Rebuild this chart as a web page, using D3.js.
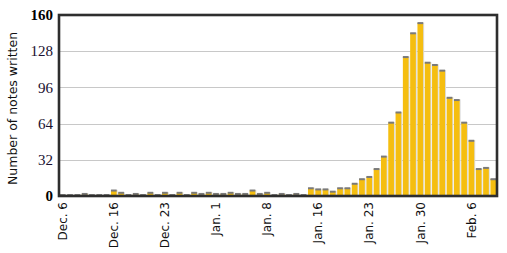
<!DOCTYPE html>
<html>
<head>
<meta charset="utf-8">
<script src="https://cdn.jsdelivr.net/npm/d3@7"></script>
<style>
  body { margin: 0; background: #fff; }
  svg { display: block; }
</style>
</head>
<body>
<div id="chartArea"></div>
<script>
// notes written per day, Dec. 6 .. Feb. 9
var values = [
    1, 1, 1, 2, 1, 1, 1, 5, 3, 1,
    2, 1, 3, 1, 3, 1, 3, 1, 3, 2,
    3, 2, 2, 3, 2, 2, 5, 2, 3, 1,
    2, 1, 2, 1, 7, 6, 6, 4, 7, 7,
    11, 15, 17, 24, 35, 65, 74, 123, 144, 153,
    118, 116, 111, 87, 85, 65, 49, 24, 25, 15
];

var tickLabels = ['Dec. 6', 'Dec. 16', 'Dec. 23', 'Jan. 1', 'Jan. 8', 'Jan. 16', 'Jan. 23', 'Jan. 30', 'Feb. 6'];
var tickDays = [0, 7, 14, 21, 28, 35, 42, 49, 56];
var yTicks = [0, 32, 64, 96, 128, 160];

var W = 507, H = 253;
var margin = {top: 15, right: 10, bottom: 57, left: 59};
var w = W - margin.left - margin.right,
    h = H - margin.top - margin.bottom;

var svg = d3.select('#chartArea').append('svg')
    .attr('width', W)
    .attr('height', H);

var g = svg.append('g')
    .attr('transform', 'translate(' + margin.left + ',' + margin.top + ')');

var xScale = d3.scaleBand()
    .domain(values.map(function (d, i) { return i; }))
    .range([0, w])
    .paddingInner(0.22)
    .paddingOuter(0.12);

var yScale = d3.scaleLinear()
    .domain([0, 160])
    .range([h, 0]);

// grid
g.selectAll('line.grid')
    .data(yTicks.slice(1, -1))
    .enter()
    .append('line')
    .attr('class', 'grid')
    .attr('x1', 0)
    .attr('x2', w)
    .attr('y1', function (d) { return Math.round(yScale(d)) + 0.5; })
    .attr('y2', function (d) { return Math.round(yScale(d)) + 0.5; })
    .attr('stroke', '#c8c8c8')
    .attr('stroke-width', 1);

var bars = g.selectAll('g.bar')
    .data(values)
    .enter()
    .append('g')
    .attr('class', 'bar');

// soft shadow on the right
bars.append('rect')
    .attr('x', function (d, i) { return xScale(i) + 1; })
    .attr('y', function (d) { return yScale(d) - 0.5; })
    .attr('width', xScale.bandwidth())
    .attr('height', function (d) { return h - yScale(d) + 0.5; })
    .attr('fill', '#dcdcdc');

bars.append('rect')
    .attr('x', function (d, i) { return xScale(i); })
    .attr('y', function (d) { return yScale(d); })
    .attr('width', xScale.bandwidth())
    .attr('height', function (d) { return h - yScale(d); })
    .attr('fill', '#f5be10');

// grey cap
bars.append('rect')
    .attr('x', function (d, i) { return xScale(i); })
    .attr('y', function (d) { return yScale(d) - 0.8; })
    .attr('width', xScale.bandwidth())
    .attr('height', 2)
    .attr('fill', '#7a7a7a');

// frame
g.append('rect')
    .attr('x', 0)
    .attr('y', 0)
    .attr('width', w)
    .attr('height', h)
    .attr('fill', 'none')
    .attr('stroke', '#2e2e2e')
    .attr('stroke-width', 2.6);

// y labels
g.selectAll('text.ylab')
    .data(yTicks)
    .enter()
    .append('text')
    .attr('class', 'ylab')
    .attr('x', -6)
    .attr('y', function (d) { return yScale(d); })
    .attr('dy', '0.35em')
    .attr('text-anchor', 'end')
    .style('font-family', '"Liberation Serif", "Times New Roman", serif')
    .style('font-size', '15px')
    .style('font-weight', function (d) { return (d === 0 || d === 160) ? 'bold' : 'normal'; })
    .attr('fill', function (d) { return (d === 0 || d === 160) ? '#000' : '#1a1030'; })
    .text(function (d) { return d; });

// x labels
g.selectAll('text.xlab')
    .data(tickDays)
    .enter()
    .append('text')
    .attr('class', 'xlab')
    .attr('transform', function (d) {
        return 'translate(' + (xScale(d) + xScale.bandwidth() / 2) + ',' + (h + 6) + ') rotate(-90)';
    })
    .attr('dy', '0.35em')
    .attr('text-anchor', 'end')
    .style('font-family', '"DejaVu Sans", Verdana, sans-serif')
    .style('font-size', '12px')
    .attr('fill', '#111')
    .text(function (d, i) { return tickLabels[i]; });

// axis title
svg.append('text')
    .attr('transform', 'translate(13,' + (margin.top + h / 2 + 3) + ') rotate(-90)')
    .attr('dy', '0.35em')
    .attr('text-anchor', 'middle')
    .style('font-family', '"DejaVu Sans", Verdana, sans-serif')
    .style('font-size', '12.5px')
    .attr('fill', '#111')
    .text('Number of notes written');
</script>
</body>
</html>
